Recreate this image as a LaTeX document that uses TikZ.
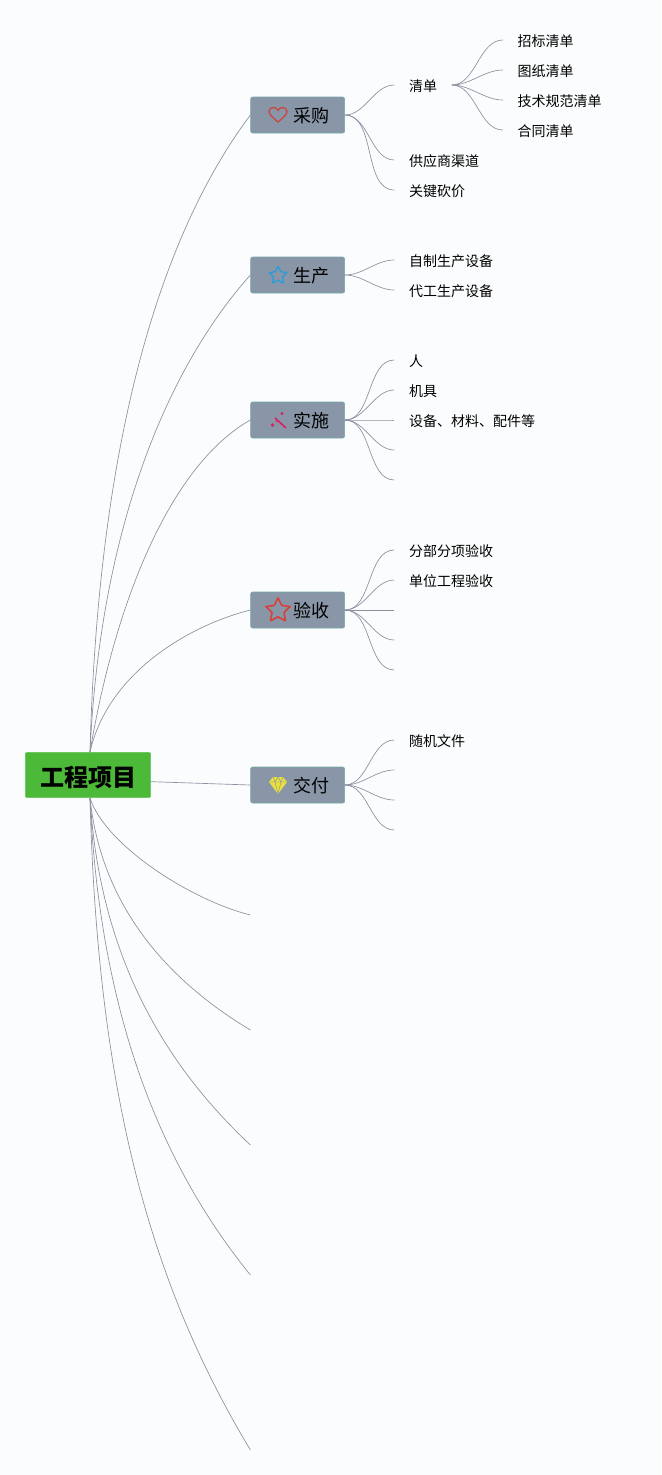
\documentclass[tikz,border=0pt]{standalone}
\usepackage{fontspec}
\setmainfont{Noto Sans CJK SC}
\usetikzlibrary{positioning,shapes.geometric}
\definecolor{pagebg}{HTML}{FBFCFD}
\definecolor{linegray}{HTML}{8C91A1}
\definecolor{branchfill}{HTML}{8896A8}
\definecolor{branchedge}{HTML}{72A8A4}
\definecolor{rootfill}{HTML}{4CB938}
\definecolor{rootedge}{HTML}{62C455}
\definecolor{heartred}{HTML}{C9483F}
\definecolor{starblue}{HTML}{2F9BD6}
\definecolor{starred}{HTML}{D8403A}
\definecolor{wandpink}{HTML}{DB1F62}
\definecolor{gemyellow}{HTML}{E9DF3F}
\begin{document}
\begin{tikzpicture}[
	% One unit is one pixel of the reference.
	x=0.75pt, y=-0.75pt,
	node distance=0pt and 37pt
	]
	\tikzset{
		root/.style={draw=rootedge, fill=rootfill, rounded corners=1.5pt, minimum width=94pt, minimum height=34pt, inner sep=0pt, text height=16.6pt, text depth=0pt, font=\fontsize{18}{20}\selectfont\bfseries},
		branch/.style={draw=branchedge, fill=branchfill, rounded corners=1.5pt, minimum width=70.5pt, minimum height=27pt, inner sep=0pt, text height=11.8pt, text depth=0pt, font=\fontsize{13.5}{15}\selectfont},
		leaf/.style={inner ysep=1pt, inner xsep=10.9pt, text height=9.5pt, text depth=0pt, font=\fontsize{10.5}{12}\selectfont},
		trunk/.style={draw=linegray, line width=0.5pt},
		twig/.style={draw=linegray, line width=0.5pt, out=0, in=180, looseness=0.9},
		icon/.style={star, star points=5, star point ratio=2, inner sep=0pt, line width=1pt, line join=round}
	}
	
	% === BACKGROUND ===
	\fill[pagebg] (0,0) rectangle (661,1475);
	\useasboundingbox (0,0) rectangle (661,1475);
	
	% === NODES ===
	% The root, then the branches from top to bottom.
	
	\node[root] (root) at (88,775) {工程项目};
	\node[coordinate, above=0pt of root, xshift=1.5pt] (rootTop) {};
	\node[coordinate, below=0pt of root, xshift=1.5pt] (rootBottom) {};
	
	\node[branch, right=74.6pt of root, yshift=495pt] (purchase) {\hspace{20.25pt}采购};
	\node[branch, right=74.6pt of root, yshift=375pt] (produce) {\hspace{20.25pt}生产};
	\node[branch, right=74.6pt of root, yshift=266.25pt] (build) {\hspace{20.25pt}实施};
	\node[branch, right=74.6pt of root, yshift=123.75pt] (accept) {\hspace{20.25pt}验收};
	\node[branch, right=74.6pt of root, yshift=-7.5pt] (deliver) {\hspace{20.25pt}交付};
	
	\node[coordinate, right=74.6pt of root, yshift=-105pt] (stubA) {};
	\node[coordinate, right=74.6pt of root, yshift=-191.25pt] (stubB) {};
	\node[coordinate, right=74.6pt of root, yshift=-277.5pt] (stubC) {};
	\node[coordinate, right=74.6pt of root, yshift=-375pt] (stubD) {};
	\node[coordinate, right=74.6pt of root, yshift=-506.25pt] (stubE) {};
	
	% Leaves of each branch.
	\node[leaf, right=of purchase, yshift=22.5pt] (list) {清单};
	\node[leaf, right=of purchase, yshift=-33.75pt] (channel) {供应商渠道};
	\node[leaf, right=of purchase, yshift=-56.25pt] (price) {关键砍价};
	
	\node[leaf, right=38.25pt of list, yshift=33.75pt] (listA) {招标清单};
	\node[leaf, right=38.25pt of list, yshift=11.25pt] (listB) {图纸清单};
	\node[leaf, right=38.25pt of list, yshift=-11.25pt] (listC) {技术规范清单};
	\node[leaf, right=38.25pt of list, yshift=-33.75pt] (listD) {合同清单};
	
	\node[leaf, right=of produce, yshift=11.25pt] (selfmade) {自制生产设备};
	\node[leaf, right=of produce, yshift=-11.25pt] (outsource) {代工生产设备};
	
	\node[leaf, right=of build, yshift=45pt] (people) {人};
	\node[leaf, right=of build, yshift=22.5pt] (tools) {机具};
	\node[leaf, right=of build] (parts) {设备、材料、配件等};
	\node[coordinate, right=of build, yshift=-22.5pt] (buildD) {};
	\node[coordinate, right=of build, yshift=-45pt] (buildE) {};
	
	\node[leaf, right=of accept, yshift=45pt] (subpart) {分部分项验收};
	\node[leaf, right=of accept, yshift=22.5pt] (unit) {单位工程验收};
	\node[coordinate, right=of accept] (acceptC) {};
	\node[coordinate, right=of accept, yshift=-22.5pt] (acceptD) {};
	\node[coordinate, right=of accept, yshift=-45pt] (acceptE) {};
	
	\node[leaf, right=of deliver, yshift=33.75pt] (files) {随机文件};
	\node[coordinate, right=of deliver, yshift=11.25pt] (deliverB) {};
	\node[coordinate, right=of deliver, yshift=-11.25pt] (deliverC) {};
	\node[coordinate, right=of deliver, yshift=-33.75pt] (deliverD) {};
	
	% === ICONS ===
	
	\draw[heartred, line width=1pt, line join=round] (278,122) .. controls (272,117) and (269,114) .. (269,111.5) .. controls (269,108.5) and (271.5,107.5) .. (273.5,107.5) .. controls (275.5,107.5) and (277,108.5) .. (278,110.5) .. controls (279,108.5) and (280.5,107.5) .. (282.5,107.5) .. controls (284.5,107.5) and (287,108.5) .. (287,111.5) .. controls (287,114) and (284,117) .. (278,122) -- cycle;
	\node[icon, draw=starblue, minimum size=14pt] (blueStar) at (278,275.5) {};
	\node[icon, draw=starred, line width=1.2pt, minimum size=19pt] (redStar) at (278,610.5) {};
	\draw[wandpink, line width=1.2pt] (275,418) -- (286,428);
	\fill[wandpink] (282,413.5) circle (1.6);
	\fill[wandpink] (272.5,425) circle (1.8);
	\fill[wandpink] (276.5,421.5) circle (0.9);
	\fill[gemyellow, line join=round] (269,782) -- (273,777) -- (283,777) -- (287,782) -- (278,794) -- cycle;
	\draw[branchfill, line width=0.35pt] (269,782) -- (287,782) (273,777) -- (275,782) -- (278,794) -- (281,782) -- (283,777) (275,782) -- (278,777) -- (281,782);
	
	% === CONNECTIONS ===
	% The second support of each curve is taken from its end point.
	
	\draw[trunk] (rootTop) .. controls +(7,-268) and +(-105,140) .. (purchase.west);
	\draw[trunk] (rootTop) .. controls +(10,-220) and +(-85,95) .. (produce.west);
	\draw[trunk] (rootTop) .. controls +(25,-150) and +(-80,45) .. (build.west);
	\draw[trunk] (rootTop) .. controls +(18,-80) and +(-60,15) .. (accept.west);
	\draw[trunk] ([yshift=-5pt]root.east) -- (deliver.west);
	
	\draw[trunk] (rootBottom) .. controls +(15,47) and +(-60,-15) .. (stubA);
	\draw[trunk] (rootBottom) .. controls +(12,115) and +(-75,-45) .. (stubB);
	\draw[trunk] (rootBottom) .. controls +(10,165) and +(-80,-75) .. (stubC);
	\draw[trunk] (rootBottom) .. controls +(10,225) and +(-85,-105) .. (stubD);
	\draw[trunk] (rootBottom) .. controls +(8,320) and +(-90,-150) .. (stubE);
	
	\draw[twig] (purchase.east) to (list.west);
	\draw[twig] (purchase.east) to (channel.west);
	\draw[twig] (purchase.east) to (price.west);
	
	\draw[twig] (list.east) to (listA.west);
	\draw[twig] (list.east) to (listB.west);
	\draw[twig] (list.east) to (listC.west);
	\draw[twig] (list.east) to (listD.west);
	
	\draw[twig] (produce.east) to (selfmade.west);
	\draw[twig] (produce.east) to (outsource.west);
	
	\draw[twig] (build.east) to (people.west);
	\draw[twig] (build.east) to (tools.west);
	\draw[twig] (build.east) to (parts.west);
	\draw[twig] (build.east) to (buildD);
	\draw[twig] (build.east) to (buildE);
	
	\draw[twig] (accept.east) to (subpart.west);
	\draw[twig] (accept.east) to (unit.west);
	\draw[twig] (accept.east) to (acceptC);
	\draw[twig] (accept.east) to (acceptD);
	\draw[twig] (accept.east) to (acceptE);
	
	\draw[twig] (deliver.east) to (files.west);
	\draw[twig] (deliver.east) to (deliverB);
	\draw[twig] (deliver.east) to (deliverC);
	\draw[twig] (deliver.east) to (deliverD);
\end{tikzpicture}
\end{document}
